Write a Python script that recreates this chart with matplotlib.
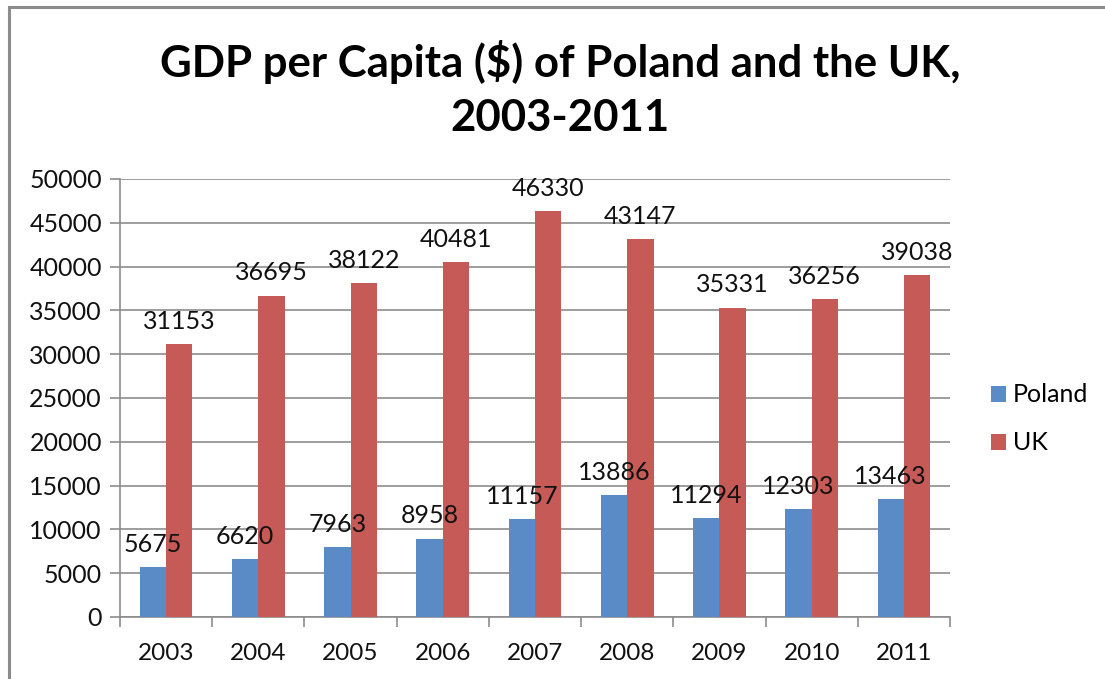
# GDP per capita of Poland and the UK, 2003-2011 (clustered columns)

import numpy as np
import matplotlib.pyplot as plt
from matplotlib.patches import Rectangle

# Data
years = ['2003', '2004', '2005', '2006', '2007', '2008', '2009', '2010', '2011']
poland = [5675, 6620, 7963, 8958, 11157, 13886, 11294, 12303, 13463]
uk = [31153, 36695, 38122, 40481, 46330, 43147, 35331, 36256, 39038]

plt.rcParams['font.family'] = ['Lato', 'DejaVu Sans']

fig = plt.figure(figsize=(11.05, 6.79), dpi=100)
ax = fig.add_axes([120 / 1105, 1 - 617 / 679, 830 / 1105, 438 / 679])

x = np.arange(len(years))
w = 0.286
bars_pl = ax.bar(x - w / 2, poland, w, color='#5b8bc6', label='Poland', zorder=3)
bars_uk = ax.bar(x + w / 2, uk, w, color='#c65a57', label='UK', zorder=3)

# data labels above each bar
for bars, vals in [(bars_pl, poland), (bars_uk, uk)]:
    for b, v in zip(bars, vals):
        ax.annotate(str(v), (b.get_x() + b.get_width() / 2, v),
                    xytext=(0, 8), textcoords='offset points',
                    ha='center', va='bottom', fontsize=18, color='#111111')

ax.set_xlim(-0.5, len(years) - 0.5)
ax.set_ylim(0, 50000)
ax.set_yticks(np.arange(0, 50001, 5000))
ax.yaxis.grid(True, color='#8c8c8c', linewidth=1.2, zorder=0)
ax.set_axisbelow(True)

# category ticks sit on the boundaries between years
ax.set_xticks(np.arange(-0.5, len(years), 1.0))
ax.set_xticklabels([])
ax.set_xticks(x, minor=True)
ax.set_xticklabels(years, minor=True)
ax.tick_params(axis='x', which='major', length=7, width=1.2, color='#8c8c8c', direction='out')
ax.tick_params(axis='x', which='minor', length=0, pad=19, labelsize=17.5, labelcolor='#111111')
ax.tick_params(axis='y', length=7, width=1.2, color='#8c8c8c', direction='out',
               labelsize=18, labelcolor='#111111', pad=6)

for side in ['top', 'right']:
    ax.spines[side].set_visible(False)
for side in ['left', 'bottom']:
    ax.spines[side].set_color('#8c8c8c')
    ax.spines[side].set_linewidth(1.2)

fig.text(0.507, 1 - 62 / 679, 'GDP per Capita ($) of Poland and the UK,',
         ha='center', va='center', fontsize=31.5, fontweight='bold')
fig.text(0.507, 1 - 118 / 679, '2003-2011',
         ha='center', va='center', fontsize=31.5, fontweight='bold')

fig.legend(handles=[bars_pl, bars_uk], loc='center left',
           bbox_to_anchor=(968 / 1105, 1 - 419 / 679), frameon=False,
           fontsize=18, handlelength=0.6, handleheight=0.6,
           handletextpad=0.3, labelspacing=1.0)

# chart area border
fig.patches.append(Rectangle((9 / 1105, -0.1), 1.2, 1 - 7 / 679 + 0.1,
                             transform=fig.transFigure, fill=False,
                             edgecolor='#8c8c8c', linewidth=2.2))

plt.savefig('out.png', dpi=100)
